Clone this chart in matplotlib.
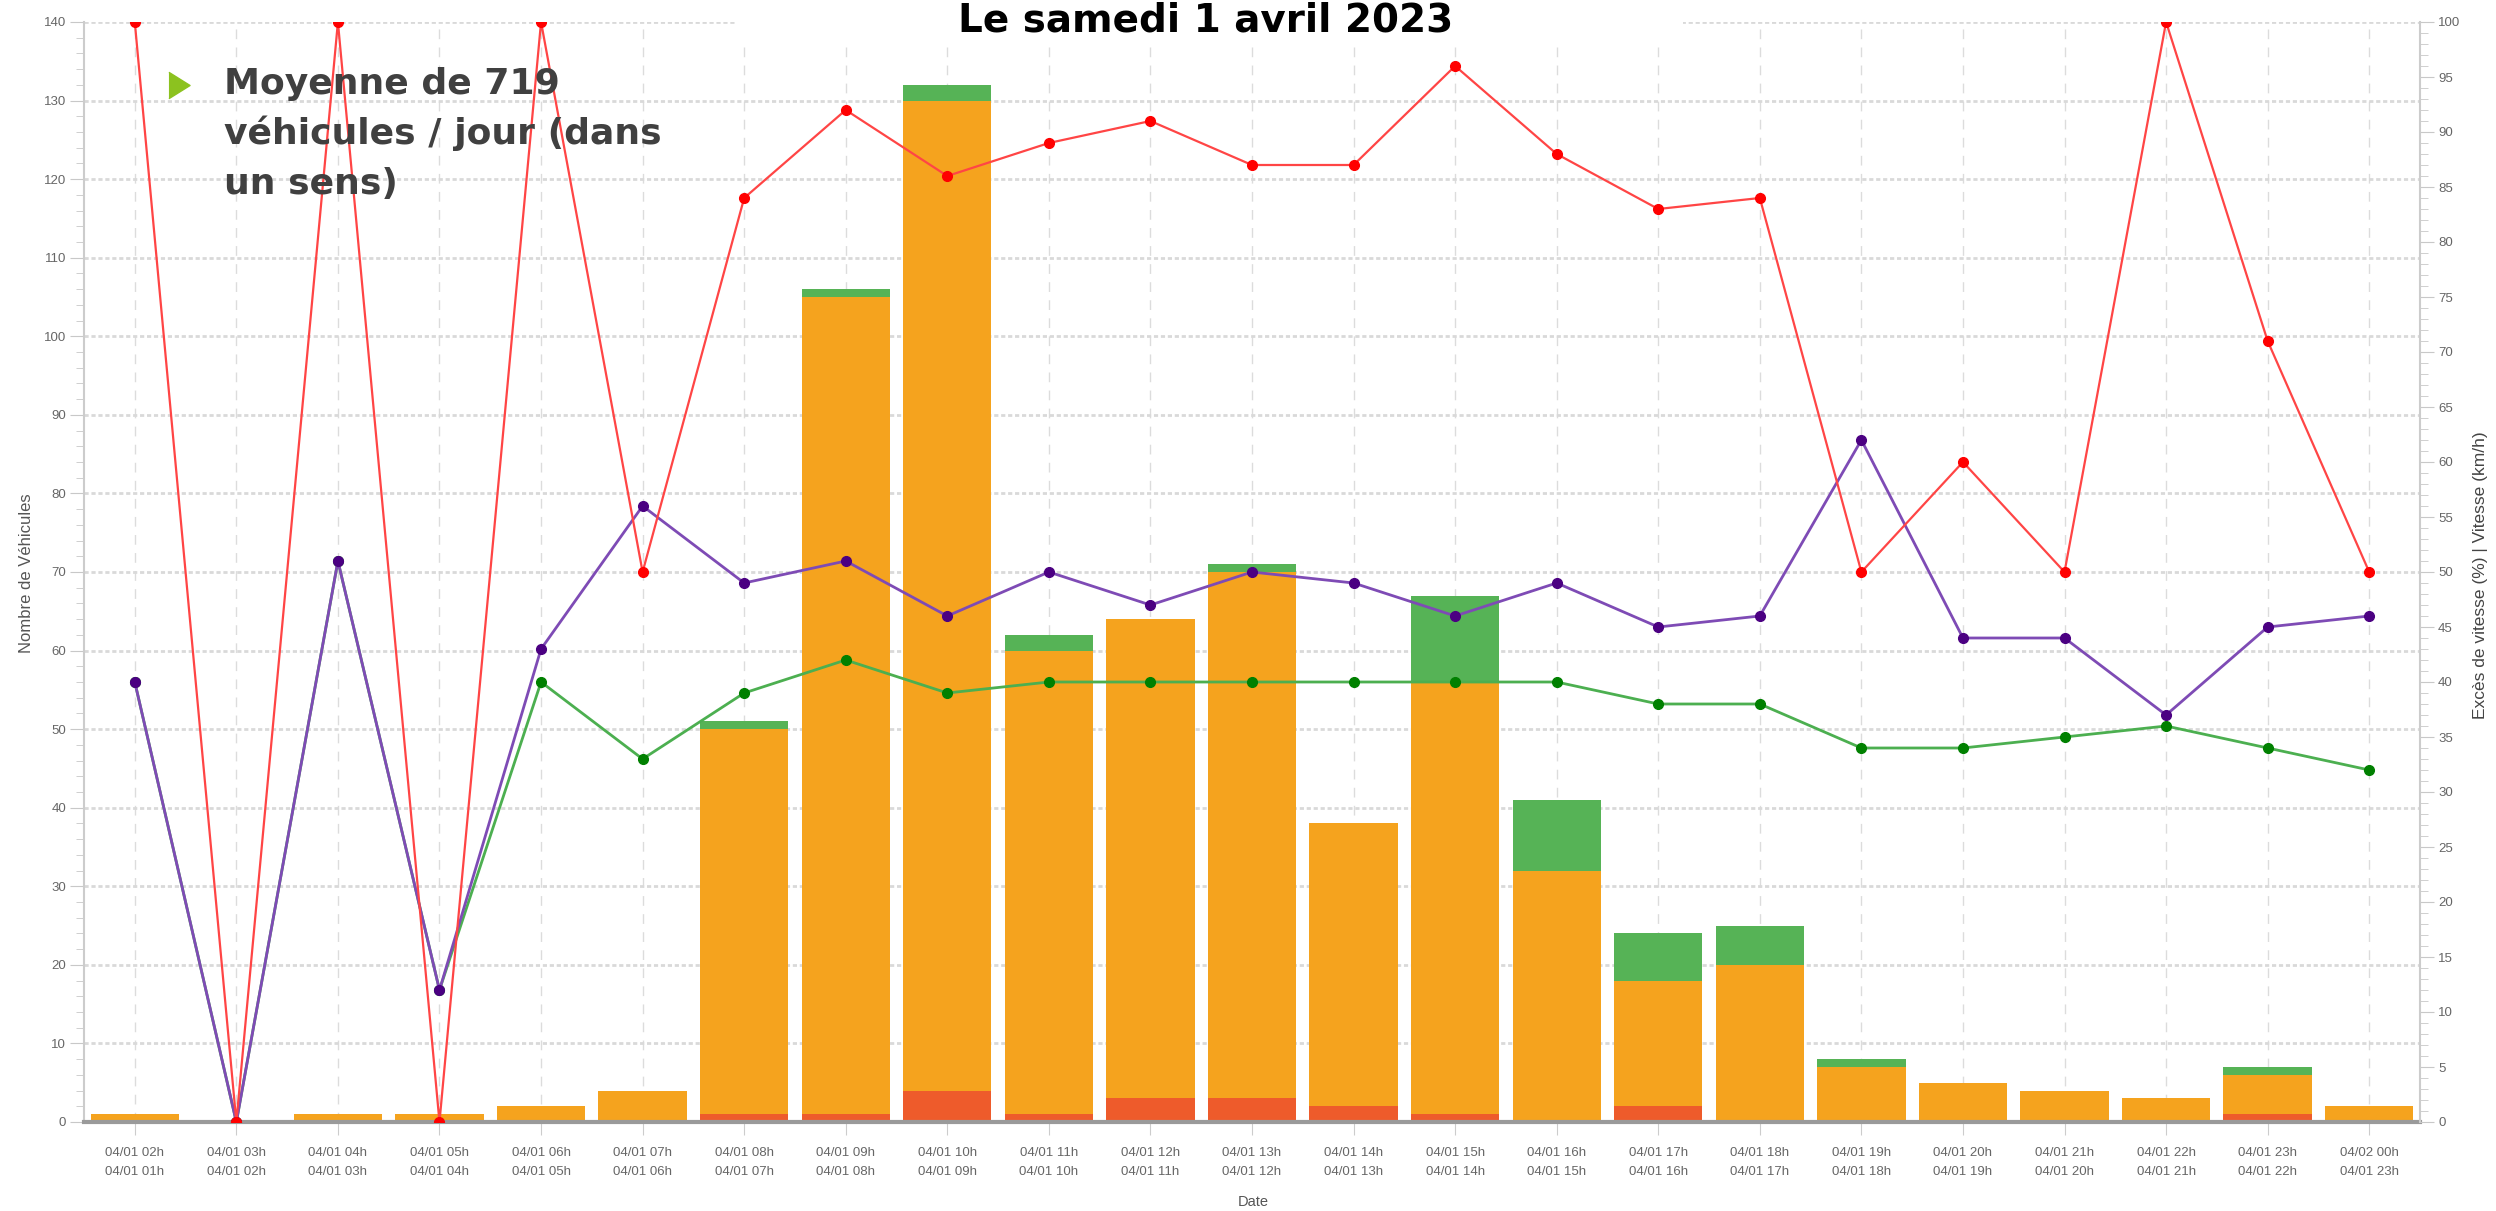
import matplotlib.pyplot as plt
from matplotlib.lines import Line2D
from matplotlib.patches import Rectangle
from matplotlib.ticker import MultipleLocator

# time slots (end hour / start hour)
hours_to = ["04/01 02h", "04/01 03h", "04/01 04h", "04/01 05h", "04/01 06h", "04/01 07h",
            "04/01 08h", "04/01 09h", "04/01 10h", "04/01 11h", "04/01 12h", "04/01 13h",
            "04/01 14h", "04/01 15h", "04/01 16h", "04/01 17h", "04/01 18h", "04/01 19h",
            "04/01 20h", "04/01 21h", "04/01 22h", "04/01 23h", "04/02 00h"]
hours_from = ["04/01 01h", "04/01 02h", "04/01 03h", "04/01 04h", "04/01 05h", "04/01 06h",
              "04/01 07h", "04/01 08h", "04/01 09h", "04/01 10h", "04/01 11h", "04/01 12h",
              "04/01 13h", "04/01 14h", "04/01 15h", "04/01 16h", "04/01 17h", "04/01 18h",
              "04/01 19h", "04/01 20h", "04/01 21h", "04/01 22h", "04/01 23h"]

# vehicle counts per class (stacked bars)
n_rouge = [0, 0, 0, 0, 0, 0, 1, 1, 4, 1, 3, 3, 2, 1, 0, 2, 0, 0, 0, 0, 0, 1, 0]
n_orange = [1, 0, 1, 1, 2, 4, 49, 104, 126, 59, 61, 67, 36, 55, 32, 16, 20, 7, 5, 4, 3, 5, 2]
n_vert = [0, 0, 0, 0, 0, 0, 1, 1, 2, 2, 0, 1, 0, 11, 9, 6, 5, 1, 0, 0, 0, 1, 0]

# right axis series
exces = [100, 0, 100, 0, 100, 50, 84, 92, 86, 89, 91, 87, 87, 96, 88, 83, 84, 50, 60, 50, 100, 71, 50]
v85 = [40, 0, 51, 12, 43, 56, 49, 51, 46, 50, 47, 50, 49, 46, 49, 45, 46, 62, 44, 44, 37, 45, 46]
vmoy = [40, 0, 51, 12, 40, 33, 39, 42, 39, 40, 40, 40, 40, 40, 40, 38, 38, 34, 34, 35, 36, 34, 32]

plt.rcParams['font.family'] = ['Liberation Sans', 'DejaVu Sans']

W, H = 2496, 1211
fig = plt.figure(figsize=(W / 100, H / 100), dpi=100)
ax = fig.add_axes([84 / W, 1 - 1122 / H, (2420 - 84) / W, 1100 / H])

x = list(range(len(hours_to)))
bot_vert = [r + o for r, o in zip(n_rouge, n_orange)]
ax.bar(x, n_rouge, width=0.87, color="#EE5B2B", zorder=2)
ax.bar(x, n_orange, width=0.87, bottom=n_rouge, color="#F5A31E", zorder=2)
ax.bar(x, n_vert, width=0.87, bottom=bot_vert, color="#56B356", zorder=2)

ax.set_xlim(-0.5, len(x) - 0.5)
ax.set_ylim(0, 140)
ax.yaxis.set_major_locator(MultipleLocator(10))
ax.yaxis.set_minor_locator(MultipleLocator(2))
ax.set_axisbelow(True)
ax.yaxis.grid(True, linestyle=(0, (1.5, 1)), linewidth=2, color="#d9d9d9")
ax.xaxis.grid(True, linestyle=(0, (7, 6)), linewidth=1, color="#dcdcdc")

labels = [f"{a}\n{b}" for a, b in zip(hours_to, hours_from)]
ax.set_xticks(x, labels, fontsize=9.5, color="#666666", linespacing=1.75)
ax.tick_params(axis="x", length=9, color="#cccccc", pad=9)
ax.tick_params(axis="y", which="major", length=10, color="#c8c8c8", labelsize=9.5,
               labelcolor="#666666", pad=3)
ax.tick_params(axis="y", which="minor", length=6, color="#c8c8c8")

for s in ["top", "right"]:
    ax.spines[s].set_visible(False)
ax.spines["left"].set_color("#cccccc")
ax.spines["left"].set_linewidth(1.5)
ax.spines["bottom"].set_color("#9a9a9a")
ax.spines["bottom"].set_linewidth(3)
ax.spines["bottom"].set_zorder(3)

ax2 = ax.twinx()
ax2.set_ylim(0, 100)
ax2.plot(x, vmoy, color="#4CAF50", lw=2, marker="o", ms=7, mfc="#008000", mec="#008000", zorder=3)
ax2.plot(x, v85, color="#7E4BB5", lw=2, marker="o", ms=7, mfc="#4B0082", mec="#4B0082", zorder=4)
ax2.plot(x, exces, color="#FF4545", lw=1.6, marker="o", ms=7, mfc="#FF0000", mec="#FF0000", zorder=5)
ax2.yaxis.set_major_locator(MultipleLocator(5))
ax2.yaxis.set_minor_locator(MultipleLocator(1))
ax2.tick_params(axis="y", which="major", length=10, color="#c8c8c8", labelsize=9.5,
                labelcolor="#666666", pad=3)
ax2.tick_params(axis="y", which="minor", length=6, color="#c8c8c8")
for s in ["top", "left", "bottom"]:
    ax2.spines[s].set_visible(False)
ax2.spines["right"].set_color("#cccccc")
ax2.spines["right"].set_linewidth(1.5)

# axis titles
fig.text(27 / W, 1 - 573 / H, "Nombre de Véhicules", rotation=90, ha="center", va="center",
         fontsize=12, color="#555555")
fig.text(2480 / W, 1 - 575 / H, "Excès de vitesse (%) | Vitesse (km/h)", rotation=90,
         ha="center", va="center", fontsize=12.5, color="#444444")
fig.text(1253 / W, 1 - 1202 / H, "Date", ha="center", va="center", fontsize=10.5, color="#555555")

# title with its white background
fig.add_artist(Rectangle((735 / W, 1 - 43 / H), 948 / W, 43 / H + 0.01,
                         transform=fig.transFigure, facecolor="white", edgecolor="none", zorder=5))
fig.text(1206 / W, 1 - 31 / H, "Le samedi 1 avril 2023", ha="center", va="baseline",
         fontsize=28, fontweight="bold", family="DejaVu Sans", color="black", zorder=6)

# overlay note
fig.add_artist(Line2D([179 / W], [1 - 85 / H], transform=fig.transFigure, linestyle="none",
                      marker=[(-0.8, -1), (0.8, 0), (-0.8, 1)], ms=19, color="#8CC21F", zorder=6))
note = ["Moyenne de 719", "véhicules / jour (dans", "un sens)"]
for i, line in enumerate(note):
    fig.text(224 / W, 1 - (94 + 50 * i) / H, line, ha="left", va="baseline", fontsize=26,
             fontweight="bold", family="DejaVu Sans", color="#404040", zorder=6)

fig.savefig("out.png", dpi=100)
